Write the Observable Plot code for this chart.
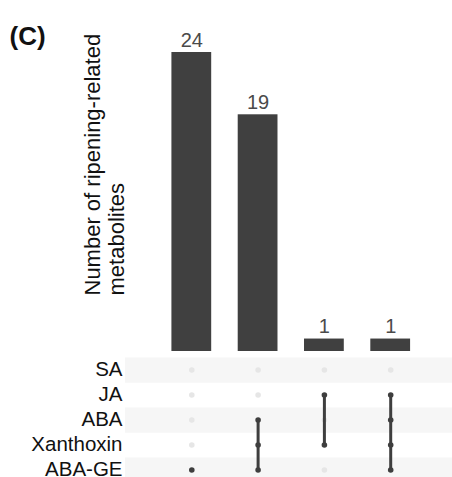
<!DOCTYPE html>
<html>
<head>
<meta charset="utf-8">
<script src="https://cdn.jsdelivr.net/npm/d3@7"></script>
<script src="https://cdn.jsdelivr.net/npm/@observablehq/plot@0.6"></script>
<style>
  html, body { margin: 0; padding: 0; background: #fff; overflow: hidden; }
  #chart { width: 452px; height: 477px; overflow: hidden; }
  #chart svg { display: block; }
</style>
</head>
<body>
<div id="chart"></div>
<script>
// Hormone sets, listed top to bottom in the membership matrix
const sets = ["SA", "JA", "ABA", "Xanthoxin", "ABA-GE"];
// Intersections (left to right) and the sets each one contains
const intersectionIds = ["i1", "i2", "i3", "i4"];
const intersectionMembers = [
  ["ABA-GE"],
  ["ABA", "Xanthoxin", "ABA-GE"],
  ["JA", "Xanthoxin"],
  ["JA", "ABA", "Xanthoxin", "ABA-GE"]
];
// Number of ripening-related metabolites in each intersection
const intersectionCounts = [24, 19, 1, 1];

const font = "'Liberation Sans', Arial, Helvetica, sans-serif";
const dark = "#3e3e3e";
const rowStep = 25.25;

const bars = intersectionIds.map((id, i) => ({id, count: intersectionCounts[i]}));

const cells = [];
intersectionIds.forEach((id, i) => {
  sets.forEach(s => cells.push({id, set: s, member: intersectionMembers[i].includes(s)}));
});

// Vertical connector from the topmost to the bottommost member set
const links = intersectionIds
  .map((id, i) => {
    const idx = intersectionMembers[i].map(s => sets.indexOf(s));
    return {id, from: sets[d3.min(idx)], to: sets[d3.max(idx)], n: idx.length};
  })
  .filter(d => d.n > 1);

const xScale = {
  type: "band", domain: intersectionIds, range: [125, 456.5],
  paddingInner: 0.4, paddingOuter: 0.7, round: false, axis: null
};

// Intersection size bars
const barPanel = Plot.plot({
  width: 452, height: 356, margin: 0,
  style: {fontFamily: font, background: "#fff"},
  x: xScale,
  y: {domain: [0, 24], range: [351, 52], axis: null},
  marks: [
    Plot.barY(bars, {x: "id", y: "count", fill: "#404040"}),
    Plot.text(bars, {x: "id", y: "count", text: d => String(d.count), dy: -12, fontSize: 20, fill: "#4a4a4a"}),
    Plot.text(["(C)"], {frameAnchor: "top-left", dx: 9, dy: 26, textAnchor: "start", fontSize: 26, fontWeight: "bold", fill: "#111"}),
    Plot.text(["Number of ripening-related\nmetabolites"], {
      frameAnchor: "top-left", dx: 81.5, dy: 295, rotate: -90,
      textAnchor: "start", lineAnchor: "top", lineHeight: 1.12, fontSize: 22, fill: "#111"
    })
  ]
});

// Set membership matrix
const shaded = sets.filter((s, i) => i % 2 === 0);
const matrixPanel = Plot.plot({
  width: 452, height: 121, marginLeft: 125, marginRight: 0, marginTop: 0, marginBottom: 0,
  style: {fontFamily: font, background: "#fff", overflow: "hidden"},
  x: xScale,
  y: {type: "band", domain: sets, range: [0, rowStep * sets.length], padding: 0, axis: null},
  marks: [
    Plot.ruleY(shaded, {y: d => d, stroke: "#f6f6f6", strokeWidth: rowStep}),
    Plot.text(sets, {y: d => d, frameAnchor: "left", dx: -3, dy: -0.5, textAnchor: "end", fontSize: 20.5, fill: "#111"}),
    Plot.dot(cells.filter(d => !d.member), {x: "id", y: "set", r: 2.8, fill: "#e6e6e6", stroke: null}),
    Plot.ruleX(links, {x: "id", y1: "from", y2: "to", insetTop: rowStep / 2, insetBottom: rowStep / 2, stroke: dark, strokeWidth: 3}),
    Plot.dot(cells.filter(d => d.member), {x: "id", y: "set", r: 2.8, fill: dark, stroke: null})
  ]
});

document.getElementById("chart").append(barPanel, matrixPanel);
</script>
</body>
</html>
